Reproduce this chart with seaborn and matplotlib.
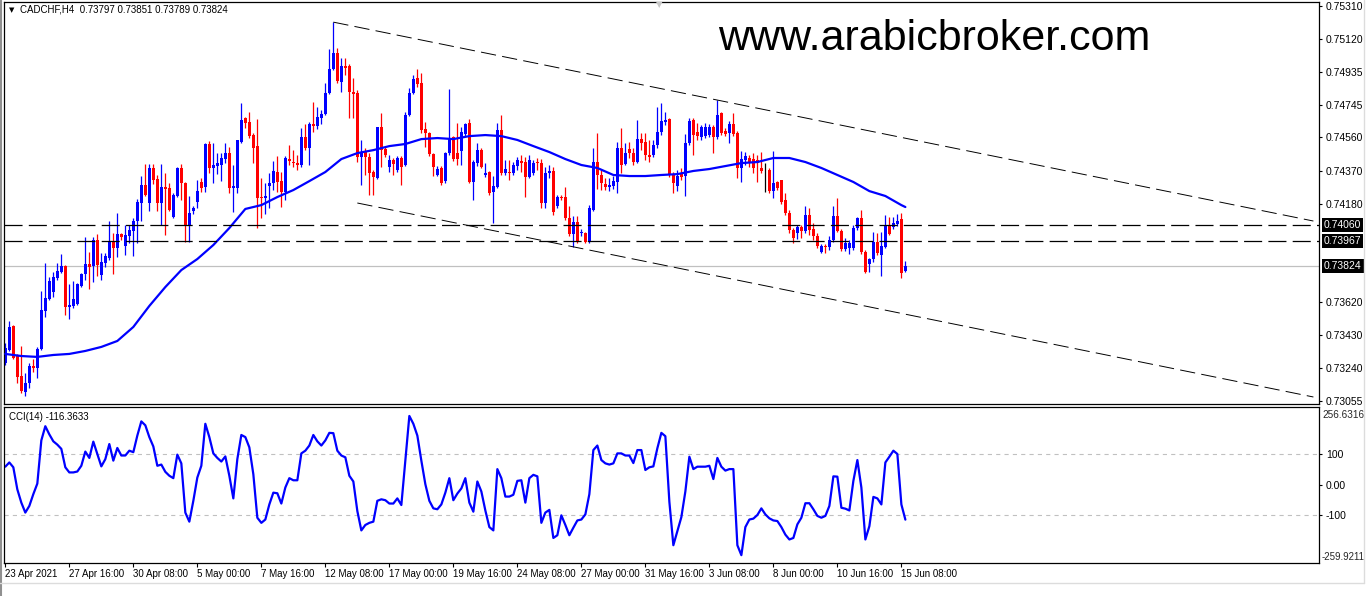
import numpy as np
import pandas as pd
import matplotlib
matplotlib.use("Agg")
import matplotlib.pyplot as plt
import matplotlib.transforms as mtransforms
from matplotlib.lines import Line2D
import seaborn as sns

sns.set_theme(style="white")
plt.rcParams["font.family"] = ["Liberation Sans", "DejaVu Sans"]
plt.rcParams["lines.scale_dashes"] = False

W, H = 1368, 596

# --- CADCHF H4 candles ---
opens = [
    0.73271, 0.73346, 0.73483, 0.73317, 0.73197, 0.73106, 0.73157, 0.73254, 0.73243, 0.73351,
    0.73568, 0.73637, 0.73677, 0.73757, 0.73791, 0.73825, 0.73591, 0.73597, 0.73608, 0.73711,
    0.73780, 0.73837, 0.73825, 0.73974, 0.73774, 0.73842, 0.73871, 0.73968, 0.73928, 0.74008,
    0.73939, 0.73996, 0.74025, 0.74082, 0.74185, 0.74288, 0.74185, 0.74385, 0.74322, 0.74185,
    0.74276, 0.74270, 0.74105, 0.74225, 0.74385, 0.74299, 0.74059, 0.74139, 0.74191, 0.74305,
    0.74276, 0.74522, 0.74385, 0.74396, 0.74402, 0.74436, 0.74470, 0.74270, 0.74270, 0.74533,
    0.74670, 0.74647, 0.74573, 0.74510, 0.74219, 0.74213, 0.74282, 0.74299, 0.74362, 0.74310,
    0.74248, 0.74436, 0.74419, 0.74413, 0.74402, 0.74562, 0.74499, 0.74636, 0.74625, 0.74670,
    0.74693, 0.74813, 0.74950, 0.75041, 0.74876, 0.74967, 0.74967, 0.74819, 0.74813, 0.74448,
    0.74476, 0.74448, 0.74362, 0.74328, 0.74619, 0.74493, 0.74390, 0.74430, 0.74373, 0.74442,
    0.74402, 0.74687, 0.74813, 0.74899, 0.74870, 0.74607, 0.74585, 0.74465, 0.74345, 0.74385,
    0.74310, 0.74470, 0.74562, 0.74470, 0.74482, 0.74579, 0.74642, 0.74305, 0.74413, 0.74487,
    0.74345, 0.74362, 0.74248, 0.74276, 0.74602, 0.74356, 0.74362, 0.74356, 0.74396, 0.74425,
    0.74419, 0.74333, 0.74356, 0.74419, 0.74413, 0.74185, 0.74356, 0.74368, 0.74168, 0.74219,
    0.74219, 0.74099, 0.74008, 0.74076, 0.74014, 0.74014, 0.73962, 0.74145, 0.74419, 0.74345,
    0.74293, 0.74276, 0.74282, 0.74305, 0.74499, 0.74408, 0.74493, 0.74470, 0.74419, 0.74550,
    0.74533, 0.74459, 0.74459, 0.74516, 0.74590, 0.74647, 0.74664, 0.74350, 0.74282, 0.74350,
    0.74339, 0.74527, 0.74659, 0.74590, 0.74562, 0.74567, 0.74573, 0.74619, 0.74562, 0.74699,
    0.74596, 0.74585, 0.74636, 0.74585, 0.74385, 0.74430, 0.74442, 0.74436, 0.74430, 0.74385,
    0.74373, 0.74373, 0.74253, 0.74305, 0.74316, 0.74202, 0.74128, 0.74031, 0.74014, 0.74048,
    0.74025, 0.74116, 0.74036, 0.73996, 0.73905, 0.73939, 0.73934, 0.73974, 0.74111, 0.74025,
    0.73922, 0.73928, 0.73928, 0.74042, 0.74099, 0.73905, 0.73837, 0.73865, 0.73962, 0.73888,
    0.73934, 0.74053, 0.74048, 0.74065, 0.74093, 0.73797,
]
highs = [
    0.73385, 0.73511, 0.73488, 0.73323, 0.73368, 0.73214, 0.73271, 0.73294, 0.73363, 0.73682,
    0.73842, 0.73762, 0.73791, 0.73842, 0.73894, 0.73831, 0.73722, 0.73740, 0.73728, 0.73785,
    0.73991, 0.73905, 0.73991, 0.74008, 0.73899, 0.73899, 0.74082, 0.74014, 0.74128, 0.74014,
    0.74059, 0.74059, 0.74099, 0.74208, 0.74339, 0.74408, 0.74408, 0.74408, 0.74345, 0.74408,
    0.74356, 0.74299, 0.74242, 0.74390, 0.74408, 0.74305, 0.74225, 0.74168, 0.74316, 0.74328,
    0.74527, 0.74539, 0.74527, 0.74470, 0.74470, 0.74527, 0.74505, 0.74402, 0.74545, 0.74756,
    0.74676, 0.74704, 0.74585, 0.74664, 0.74328, 0.74299, 0.74356, 0.74425, 0.74453, 0.74362,
    0.74453, 0.74516, 0.74487, 0.74459, 0.74613, 0.74636, 0.74647, 0.74762, 0.74733, 0.74716,
    0.74870, 0.75064, 0.75218, 0.75070, 0.75013, 0.75013, 0.74979, 0.74899, 0.74830, 0.74545,
    0.74499, 0.74470, 0.74373, 0.74619, 0.74699, 0.74505, 0.74459, 0.74442, 0.74453, 0.74453,
    0.74704, 0.74842, 0.74916, 0.74950, 0.74927, 0.74647, 0.74590, 0.74470, 0.74396, 0.74396,
    0.74476, 0.74836, 0.74567, 0.74642, 0.74619, 0.74642, 0.74664, 0.74430, 0.74527, 0.74499,
    0.74413, 0.74368, 0.74339, 0.74642, 0.74687, 0.74430, 0.74430, 0.74419, 0.74448, 0.74459,
    0.74448, 0.74459, 0.74430, 0.74442, 0.74436, 0.74390, 0.74402, 0.74390, 0.74231, 0.74231,
    0.74276, 0.74168, 0.74111, 0.74111, 0.74036, 0.74019, 0.74173, 0.74499, 0.74585, 0.74373,
    0.74328, 0.74328, 0.74339, 0.74533, 0.74613, 0.74527, 0.74533, 0.74499, 0.74659, 0.74585,
    0.74585, 0.74545, 0.74545, 0.74733, 0.74756, 0.74704, 0.74670, 0.74362, 0.74373, 0.74385,
    0.74579, 0.74670, 0.74670, 0.74642, 0.74630, 0.74642, 0.74636, 0.74630, 0.74773, 0.74704,
    0.74613, 0.74653, 0.74699, 0.74596, 0.74482, 0.74476, 0.74459, 0.74470, 0.74459, 0.74476,
    0.74413, 0.74385, 0.74482, 0.74310, 0.74316, 0.74242, 0.74145, 0.74042, 0.74059, 0.74059,
    0.74168, 0.74156, 0.74071, 0.74014, 0.73951, 0.73951, 0.73996, 0.74168, 0.74213, 0.74036,
    0.73985, 0.73974, 0.74059, 0.74105, 0.74145, 0.73917, 0.73871, 0.74019, 0.74014, 0.74019,
    0.74116, 0.74105, 0.74105, 0.74122, 0.74128, 0.73851,
]
lows = [
    0.73260, 0.73340, 0.73294, 0.73157, 0.73100, 0.73083, 0.73128, 0.73220, 0.73186, 0.73346,
    0.73534, 0.73631, 0.73648, 0.73745, 0.73785, 0.73545, 0.73522, 0.73585, 0.73602, 0.73705,
    0.73745, 0.73694, 0.73734, 0.73768, 0.73745, 0.73819, 0.73859, 0.73780, 0.73877, 0.73974,
    0.73888, 0.73956, 0.73882, 0.73956, 0.74082, 0.74225, 0.74139, 0.74293, 0.74139, 0.74059,
    0.74002, 0.74139, 0.74099, 0.74219, 0.74202, 0.73962, 0.73962, 0.74122, 0.74156, 0.74248,
    0.74248, 0.74356, 0.74299, 0.74350, 0.74310, 0.74413, 0.74242, 0.74133, 0.74242, 0.74527,
    0.74613, 0.74556, 0.74413, 0.74042, 0.74099, 0.74122, 0.74156, 0.74259, 0.74248, 0.74162,
    0.74202, 0.74402, 0.74390, 0.74373, 0.74390, 0.74487, 0.74402, 0.74590, 0.74607, 0.74636,
    0.74687, 0.74807, 0.74944, 0.74870, 0.74819, 0.74916, 0.74670, 0.74670, 0.74419, 0.74288,
    0.74345, 0.74231, 0.74231, 0.74322, 0.74390, 0.74448, 0.74362, 0.74345, 0.74362, 0.74288,
    0.74396, 0.74682, 0.74807, 0.74847, 0.74585, 0.74505, 0.74453, 0.74339, 0.74339, 0.74288,
    0.74299, 0.74459, 0.74425, 0.74402, 0.74402, 0.74567, 0.74299, 0.74202, 0.74396, 0.74385,
    0.74333, 0.74231, 0.74071, 0.74270, 0.74345, 0.74345, 0.74316, 0.74345, 0.74373, 0.74362,
    0.74219, 0.74328, 0.74345, 0.74373, 0.74156, 0.74156, 0.74328, 0.74116, 0.74156, 0.74202,
    0.74088, 0.73996, 0.73934, 0.73956, 0.73996, 0.73956, 0.73956, 0.74139, 0.74265, 0.74259,
    0.74259, 0.74253, 0.74265, 0.74242, 0.74356, 0.74402, 0.74442, 0.74402, 0.74413, 0.74487,
    0.74430, 0.74419, 0.74448, 0.74499, 0.74573, 0.74630, 0.74333, 0.74242, 0.74253, 0.74316,
    0.74225, 0.74516, 0.74459, 0.74545, 0.74545, 0.74556, 0.74562, 0.74470, 0.74550, 0.74573,
    0.74567, 0.74527, 0.74567, 0.74328, 0.74305, 0.74402, 0.74390, 0.74356, 0.74305, 0.74356,
    0.74248, 0.74242, 0.74213, 0.74259, 0.74179, 0.74116, 0.74014, 0.73956, 0.73979, 0.73985,
    0.74014, 0.74002, 0.73974, 0.73928, 0.73899, 0.73899, 0.73917, 0.73962, 0.74019, 0.73911,
    0.73911, 0.73894, 0.73917, 0.74031, 0.73894, 0.73785, 0.73791, 0.73848, 0.73888, 0.73768,
    0.73928, 0.74002, 0.74036, 0.74053, 0.73757, 0.73789,
]
closes = [
    0.73357, 0.73477, 0.73300, 0.73191, 0.73111, 0.73157, 0.73254, 0.73243, 0.73351, 0.73574,
    0.73642, 0.73740, 0.73762, 0.73797, 0.73825, 0.73591, 0.73602, 0.73637, 0.73722, 0.73780,
    0.73837, 0.73819, 0.73974, 0.73831, 0.73848, 0.73882, 0.73968, 0.73928, 0.74008, 0.73991,
    0.74002, 0.74031, 0.74082, 0.74191, 0.74288, 0.74231, 0.74385, 0.74316, 0.74185, 0.74276,
    0.74265, 0.74145, 0.74231, 0.74385, 0.74299, 0.74059, 0.74128, 0.74156, 0.74253, 0.74270,
    0.74522, 0.74385, 0.74402, 0.74413, 0.74442, 0.74470, 0.74270, 0.74282, 0.74545, 0.74659,
    0.74642, 0.74567, 0.74499, 0.74213, 0.74213, 0.74225, 0.74299, 0.74368, 0.74305, 0.74248,
    0.74442, 0.74425, 0.74413, 0.74402, 0.74562, 0.74499, 0.74636, 0.74625, 0.74676, 0.74693,
    0.74813, 0.74950, 0.75041, 0.74882, 0.74967, 0.74956, 0.74819, 0.74807, 0.74448, 0.74476,
    0.74448, 0.74356, 0.74333, 0.74619, 0.74487, 0.74459, 0.74430, 0.74408, 0.74442, 0.74390,
    0.74687, 0.74813, 0.74893, 0.74864, 0.74602, 0.74585, 0.74465, 0.74390, 0.74379, 0.74299,
    0.74470, 0.74556, 0.74436, 0.74436, 0.74590, 0.74636, 0.74305, 0.74419, 0.74487, 0.74390,
    0.74356, 0.74242, 0.74282, 0.74602, 0.74356, 0.74379, 0.74356, 0.74402, 0.74430, 0.74413,
    0.74333, 0.74430, 0.74413, 0.74413, 0.74185, 0.74356, 0.74368, 0.74133, 0.74219, 0.74213,
    0.74099, 0.74008, 0.74076, 0.73962, 0.74019, 0.73962, 0.74156, 0.74419, 0.74345, 0.74299,
    0.74276, 0.74288, 0.74310, 0.74499, 0.74402, 0.74470, 0.74470, 0.74419, 0.74550, 0.74527,
    0.74459, 0.74448, 0.74516, 0.74590, 0.74653, 0.74659, 0.74350, 0.74299, 0.74339, 0.74333,
    0.74527, 0.74653, 0.74573, 0.74567, 0.74619, 0.74619, 0.74619, 0.74562, 0.74687, 0.74585,
    0.74579, 0.74636, 0.74579, 0.74385, 0.74436, 0.74453, 0.74413, 0.74385, 0.74413, 0.74368,
    0.74373, 0.74253, 0.74299, 0.74270, 0.74191, 0.74128, 0.74031, 0.73985, 0.74048, 0.74025,
    0.74116, 0.74031, 0.73996, 0.73939, 0.73939, 0.73934, 0.73974, 0.74111, 0.74025, 0.73922,
    0.73956, 0.73956, 0.74042, 0.74099, 0.73905, 0.73791, 0.73865, 0.73962, 0.73899, 0.73939,
    0.74059, 0.74008, 0.74071, 0.74082, 0.73785, 0.73824,
]

# moving average, read every 4 bars
ma_bar = [0, 4, 8, 12, 16, 20, 24, 28, 32, 36, 40, 44, 48, 52, 56, 60, 64, 68, 72, 76,
          80, 84, 88, 92, 96, 100, 104, 108, 112, 116, 120, 124, 128, 132, 136, 140, 144,
          148, 152, 156, 160, 164, 168, 172, 176, 180, 184, 188, 192, 196, 200, 204, 208,
          212, 216, 220, 224, 225]
ma_price = [0.73323, 0.73311, 0.73306, 0.73317, 0.73323, 0.73340, 0.73363, 0.73397, 0.73477,
            0.73597, 0.73705, 0.73802, 0.73865, 0.73945, 0.74042, 0.74151, 0.74173, 0.74219,
            0.74259, 0.74310, 0.74362, 0.74436, 0.74470, 0.74487, 0.74510, 0.74522, 0.74550,
            0.74556, 0.74550, 0.74567, 0.74573, 0.74567, 0.74545, 0.74510, 0.74476, 0.74436,
            0.74402, 0.74385, 0.74345, 0.74339, 0.74339, 0.74345, 0.74350, 0.74368, 0.74379,
            0.74396, 0.74413, 0.74419, 0.74442, 0.74442, 0.74419, 0.74385, 0.74345, 0.74305,
            0.74253, 0.74225, 0.74173, 0.74162]

cci = [
    59, 73, 57, -16, -60, -93, -71, -32, 3, 146,
    193, 166, 143, 132, 118, 57, 40, 40, 43, 62,
    109, 88, 142, 101, 60, 84, 134, 79, 121, 96,
    96, 112, 107, 162, 209, 196, 157, 126, 62, 66,
    42, 29, 21, 99, 70, -93, -123, -54, 23, 62,
    201, 157, 103, 88, 76, 93, 29, -46, 84, 164,
    157, 123, 34, -110, -127, -116, -66, -27, -29, -63,
    -10, 21, 14, 14, 103, 112, 129, 164, 143, 129,
    146, 171, 170, 112, 96, 90, 29, 10, -88, -152,
    -134, -127, -123, -54, -49, -52, -63, -63, -46, -68,
    79, 227, 201, 162, 79, 1, -54, -79, -82, -66,
    -27, 21, -52, -30, -13, 21, -60, -90, 10, -23,
    -86, -141, -152, 51, 21, -40, -40, -34, 12, 14,
    -60, 21, 32, 27, -127, -93, -84, -177, -168, -102,
    -134, -168, -143, -119, -116, -99, -32, 114, 129, 81,
    70, 66, 70, 103, 103, 96, 96, 71, 114, 114,
    48, 57, 60, 120, 171, 160, -57, -201, -154, -108,
    -23, 92, 51, 59, 59, 59, 62, 18, 88, 59,
    46, 51, 51, -201, -234, -141, -116, -113, -101, -79,
    -99, -112, -119, -121, -141, -166, -182, -177, -132, -110,
    -62, -62, -82, -104, -110, -104, -71, 27, 26, -77,
    -80, -86, 12, 81, -10, -182, -138, -41, -46, -66,
    73, 92, 112, 101, -66, -116.3633,
]

# chart objects
levels = [0.74060, 0.73967]
last_price = 0.73824
upper_channel = ([82, 327], [0.75218, 0.74082])
lower_channel = ([88, 327], [0.74185, 0.73077])

price_ticks = [0.75310, 0.75120, 0.74935, 0.74745, 0.74560, 0.74370, 0.74180,
               0.73620, 0.73430, 0.73240, 0.73055]
date_bars = [0, 16, 32, 48, 64, 80, 96, 112, 128, 144, 160, 176, 192, 208, 224]
date_labels = ["23 Apr 2021", "27 Apr 16:00", "30 Apr 08:00", "5 May 00:00", "7 May 16:00",
               "12 May 08:00", "17 May 00:00", "19 May 16:00", "24 May 08:00", "27 May 00:00",
               "31 May 16:00", "3 Jun 08:00", "8 Jun 00:00", "10 Jun 16:00", "15 Jun 08:00"]

BULL, BEAR = "#0000FF", "#FF0000"

bars = pd.DataFrame({"open": opens, "high": highs, "low": lows, "close": closes})
bars["bar"] = np.arange(len(bars))

fig = plt.figure(figsize=(W / 100, H / 100), dpi=100)
ax = fig.add_axes([4 / W, 1 - 404 / H, 1315 / W, 402 / H])
cax = fig.add_axes([4 / W, 1 - 563 / H, 1315 / W, 156 / H])
XLIM = (-0.33, 328.4)

# --- price panel ---
colors = np.where(bars.close > bars.open, BULL, np.where(bars.close < bars.open, BEAR, "black"))
ax.vlines(bars.bar, bars.low, bars.high, colors=colors, linewidth=0.9, zorder=2)
body_lo = np.minimum(bars.open, bars.close)
body_h = np.maximum((bars.close - bars.open).abs(), 0.00003)
ax.bar(bars.bar, body_h, bottom=body_lo, width=0.76, color=colors, linewidth=0, zorder=2)

sns.lineplot(x=ma_bar, y=ma_price, color=BULL, linewidth=1.6, ax=ax, zorder=3, sort=False)

ax.axhline(last_price, color="#C0C0C0", linewidth=0.9, zorder=1)
for lv in levels:
    ax.axhline(lv, color="black", linewidth=0.9, dashes=(13, 4.5), zorder=4)
for xs, ys in (upper_channel, lower_channel):
    ax.plot(xs, ys, color="black", linewidth=0.7, dashes=(11, 4.5), zorder=4)

ax.set_xlim(*XLIM)
ax.set_ylim(0.73037, 0.75333)
ax.set_xticks([])
ax.yaxis.tick_right()
ax.set_yticks(price_ticks)
ax.set_yticklabels([f"{v:.5f}" for v in price_ticks])
ax.tick_params(axis="y", which="both", right=True, left=False, length=2.5, width=0.8,
               pad=2.5, labelsize=7.5, colors="black")
ax.set_ylabel("")

ytrans = ax.get_yaxis_transform()
for v in levels + [last_price]:
    ax.text(1 + 5 / 1315, v, f"{v:.5f}", transform=ytrans, color="white", fontsize=7.5,
            va="center", ha="left", zorder=10, clip_on=False,
            bbox=dict(boxstyle="square,pad=0.18", fc="black", ec="none"))

# --- CCI panel ---
sns.lineplot(x=bars.bar, y=cci, color=BULL, linewidth=1.6, ax=cax, sort=False)
for lv in (100, -100):
    cax.axhline(lv, color="#C0C0C0", linewidth=0.8, dashes=(3, 3), zorder=1)
cax.set_xlim(*XLIM)
cax.set_ylim(-259.9211, 256.6316)
cax.yaxis.tick_right()
cax.set_yticks([100, 0, -100])
cax.set_yticklabels(["100", "0.00", "-100"])
cax.tick_params(axis="y", right=True, left=False, length=2.5, width=0.8, pad=2.5,
                labelsize=7.5, colors="black")
cax.set_ylabel("")
ctrans = mtransforms.blended_transform_factory(cax.transAxes, cax.transAxes)
cax.text(1 + 3 / 1315, 1 - 8 / 156, "256.6316", transform=ctrans, fontsize=7.2,
         va="center", ha="left", clip_on=False)
cax.text(1 + 3 / 1315, 6 / 156, "-259.9211", transform=ctrans, fontsize=7.0,
         va="center", ha="left", clip_on=False)

cax.set_xticks(date_bars)
cax.set_xticklabels(date_labels)
cax.tick_params(axis="x", bottom=True, length=3, width=0.8, pad=1.5, labelsize=7,
                colors="black")
for lbl in cax.get_xticklabels():
    lbl.set_horizontalalignment("left")
cax.set_xlabel("")

for a in (ax, cax):
    for sp in a.spines.values():
        sp.set_color("black")
        sp.set_linewidth(0.9)

# --- texts ---
fig.text(11.5 / W, 1 - 10 / H, "\u25bc", fontsize=5, family="DejaVu Sans",
         ha="center", va="center", color="black")
fig.text(20 / W, 1 - 9.5 / H, "CADCHF,H4  0.73797 0.73851 0.73789 0.73824", fontsize=7,
         ha="left", va="center", color="black")
fig.text(9 / W, 1 - 417 / H, "CCI(14) -116.3633", fontsize=7, ha="left", va="center",
         color="black")
fig.text(718 / W, 1 - 50 / H, "www.arabicbroker.com", fontsize=31, ha="left",
         va="baseline", color="black")
fig.text(659 / W, 1 - 5 / H, "\u25bc", fontsize=6, family="DejaVu Sans",
         ha="center", va="center", color="#C8C8C8")

# window frame
fig.add_artist(Line2D([1 / W, 1 / W], [0, 1], color="#909090", linewidth=1.5))
fig.add_artist(Line2D([0, 1364 / W], [1 - 583 / H, 1 - 583 / H], color="#DCDCDC", linewidth=1))
fig.add_artist(Line2D([1364 / W, 1364 / W], [1 - 583 / H, 1], color="#DCDCDC", linewidth=1))

fig.savefig("out.png", dpi=100)
